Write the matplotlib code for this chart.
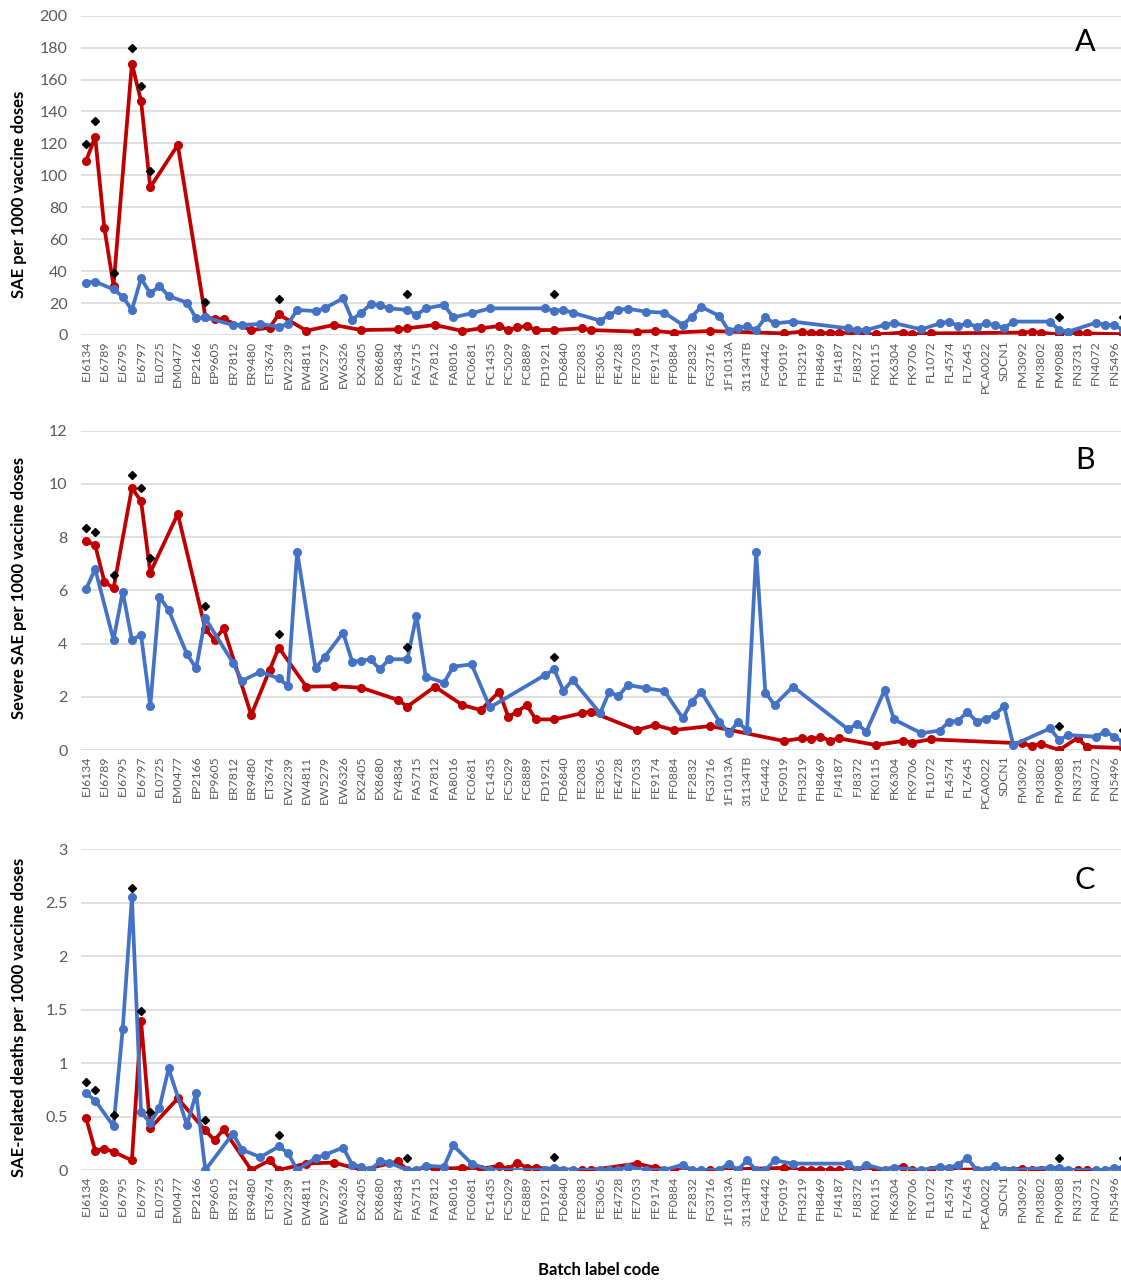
import matplotlib
matplotlib.use("Agg")
import matplotlib.pyplot as plt

plt.rcParams['font.family'] = ['Lato', 'DejaVu Sans']

# batch codes; only every other batch carries a label on the axis
batch_labels = [
    "EJ6134", "EJ6789", "EJ6795", "EJ6797", "EL0725", "EM0477", "EP2166", "EP9605",
    "ER7812", "ER9480", "ET3674", "EW2239", "EW4811", "EW5279", "EW6326", "EX2405",
    "EX8680", "EY4834", "FA5715", "FA7812", "FA8016", "FC0681", "FC1435", "FC5029",
    "FC8889", "FD1921", "FD6840", "FE2083", "FE3065", "FE4728", "FE7053", "FE9174",
    "FF0884", "FF2832", "FG3716", "1F1013A", "31134TB", "FG4442", "FG9019", "FH3219",
    "FH8469", "FJ4187", "FJ8372", "FK0115", "FK6304", "FK9706", "FL1072", "FL4574",
    "FL7645", "PCA0022", "SDCN1", "FM3092", "FM3802", "FM9088", "FN3731", "FN4072",
    "FN5496",
]
n_batches = 114

# batch positions that have a value in each series
red_batches = [0, 1, 2, 3, 5, 6, 7, 10, 13, 14,
               15, 18, 20, 21, 24, 27, 30, 34, 35, 38,
               41, 43, 45, 46, 47, 48, 49, 51, 54, 55,
               60, 62, 64, 68, 76, 78, 79, 80, 81, 82,
               86, 89, 90, 92, 102, 103, 104, 106, 108, 109,
               113]
blue_batches = [0, 1, 3, 4, 5, 6, 7, 8, 9, 11,
                12, 13, 16, 17, 19, 21, 22, 23, 25, 26,
                28, 29, 30, 31, 32, 33, 35, 36, 37, 39,
                40, 42, 44, 50, 51, 52, 53, 56, 57, 58,
                59, 61, 63, 65, 66, 67, 69, 70, 71, 72,
                73, 74, 75, 77, 83, 84, 85, 87, 88, 91,
                93, 94, 95, 96, 97, 98, 99, 100, 101, 105,
                106, 107, 110, 111, 112, 113]
flag_batches = [0, 1, 3, 5, 6, 7, 13, 21, 35, 51, 106, 113]

# panel A: SAE per 1000 doses
a_red = [109, 124, 67, 31, 170, 146.5, 92.5, 119, 11.5, 9.8,
         9.8, 3.1, 4.6, 12.9, 2.7, 6.3, 3.1, 3.5, 4.2, 6.3,
         2.5, 4.2, 5.6, 3.1, 4.8, 5.6, 3.1, 3.1, 4.2, 3.1,
         2.1, 2.5, 1.5, 2.5, 1.0, 2.1, 1.0, 1.5, 1.0, 1.5,
         0.4, 1.5, 0.4, 1.0, 1.5, 2.1, 1.5, 0.3, 1.0, 1.0,
         0.5]
a_blue = [32.8, 33.4, 28.6, 24, 15.7, 35.5, 26, 30.7, 24.4, 20.3,
          10.4, 11, 6.3, 6.3, 6.9, 5.2, 6.9, 15.7, 15, 16.7,
          23, 9.6, 14, 19.2, 18.8, 16.7, 15.7, 12.5, 16.7, 18.8,
          11, 13.6, 16.7, 16.7, 15.2, 15.7, 14, 9, 12.5, 15.7,
          16.5, 14.6, 14, 6.3, 11.5, 17.7, 11.9, 2.7, 4.2, 5.6,
          3.1, 11, 7.3, 8.4, 4.2, 3.1, 3.1, 6.3, 7.5, 3.5,
          7.3, 8.4, 5.6, 7.3, 5.2, 7.3, 6.3, 4.2, 8.4, 8.4,
          3.1, 2.1, 7.7, 6.3, 6.3, 3.0]
a_flag = [119.6, 134, 39, 179.5, 156, 103, 20.7, 22.5, 25.7, 25.7, 11.5, 11.5]

# panel B: severe SAE per 1000 doses
b_red = [7.86, 7.7, 6.33, 6.08, 9.84, 9.36, 6.67, 8.87, 4.54, 4.14,
         4.57, 1.32, 3.0, 3.85, 2.38, 2.4, 2.34, 1.88, 1.63, 2.38,
         1.69, 1.5, 2.19, 1.25, 1.44, 1.69, 1.15, 1.15, 1.38, 1.44,
         0.75, 0.94, 0.75, 0.9, 0.34, 0.44, 0.4, 0.5, 0.35, 0.44,
         0.19, 0.34, 0.28, 0.4, 0.25, 0.15, 0.23, 0.0, 0.45, 0.12,
         0.08]
b_blue = [6.04, 6.8, 4.14, 5.95, 4.14, 4.32, 1.65, 5.76, 5.26, 3.6,
          3.07, 4.95, 3.28, 2.6, 2.94, 2.69, 2.41, 7.46, 3.07, 3.5,
          4.41, 3.32, 3.36, 3.41, 3.03, 3.41, 3.41, 5.05, 2.76, 2.53,
          3.13, 3.22, 1.6, 2.82, 3.03, 2.23, 2.63, 1.38, 2.19, 2.02,
          2.45, 2.32, 2.22, 1.19, 1.82, 2.19, 1.07, 0.63, 1.04, 0.75,
          7.43, 2.16, 1.69, 2.38, 0.78, 0.98, 0.69, 2.26, 1.15, 0.63,
          0.73, 1.07, 1.09, 1.44, 1.07, 1.17, 1.32, 1.65, 0.19, 0.81,
          0.38, 0.56, 0.5, 0.69, 0.5, 0.28]
b_flag = [8.33, 8.2, 6.58, 10.34, 9.84, 7.23, 5.43, 4.35, 3.88, 3.51, 0.9, 0.75]

# panel C: SAE-related deaths per 1000 doses
c_red = [0.49, 0.18, 0.2, 0.17, 0.09, 1.39, 0.39, 0.67, 0.37, 0.28,
         0.38, 0.0, 0.09, 0.0, 0.06, 0.07, 0.0, 0.08, 0.0, 0.01,
         0.02, 0.01, 0.04, 0.01, 0.07, 0.02, 0.02, 0.01, 0.0, 0.0,
         0.06, 0.02, 0.0, 0.0, 0.02, 0.0, 0.0, 0.0, 0.0, 0.0,
         0.0, 0.03, 0.0, 0.0, 0.01, 0.0, 0.0, 0.0, 0.0, 0.0,
         0.0]
c_blue = [0.72, 0.65, 0.41, 1.32, 2.55, 0.54, 0.44, 0.58, 0.95, 0.42,
          0.72, 0.0, 0.34, 0.19, 0.12, 0.22, 0.16, 0.0, 0.11, 0.14,
          0.21, 0.05, 0.03, 0.0, 0.08, 0.07, 0.0, 0.0, 0.04, 0.03,
          0.23, 0.06, 0.0, 0.0, 0.02, 0.0, 0.0, 0.0, 0.0, 0.0,
          0.03, 0.0, 0.0, 0.05, 0.0, 0.0, 0.0, 0.06, 0.0, 0.09,
          0.0, 0.0, 0.09, 0.06, 0.06, 0.0, 0.05, 0.0, 0.02, 0.0,
          0.03, 0.02, 0.05, 0.11, 0.0, 0.0, 0.04, 0.0, 0.0, 0.02,
          0.02, 0.0, 0.0, 0.0, 0.02, 0.02]
c_flag = [0.82, 0.75, 0.51, 2.64, 1.49, 0.54, 0.47, 0.33, 0.11, 0.12, 0.11, 0.11]

W, H = 1121, 1282
fig = plt.figure(figsize=(W / 100, H / 100), dpi=100)


def axes_px(top, bottom, left=81.4, right=1128):
    return fig.add_axes([left / W, 1 - bottom / H, (right - left) / W, (bottom - top) / H])


panels = [
    (15.7, 335, a_red, a_blue, a_flag, 200, 20, "SAE per 1000 vaccine doses", 0.44, "A", 0.918),
    (430.7, 750, b_red, b_blue, b_flag, 12, 2, "Severe SAE per 1000 vaccine doses", 0.507, "B", 0.908),
    (849.3, 1170, c_red, c_blue, c_flag, 3, 0.5, "SAE-related deaths per 1000 vaccine doses", 0.477, "C", 0.904),
]

grey = "#595959"
for top, bottom, red, blue, flag, ymax, step, ylabel, ly, letter, lety in panels:
    ax = axes_px(top, bottom)
    ax.plot(red_batches, red, color="#C00000", lw=2.7, marker="o", ms=5.5, zorder=3)
    ax.plot(blue_batches, blue, color="#4472C4", lw=2.7, marker="o", ms=5.5, zorder=4)
    ax.plot(flag_batches, flag, "D", color="black", ms=4.5, zorder=5)

    ax.set_xlim(-0.5, n_batches - 0.5)
    ax.set_ylim(0, ymax)
    n_steps = int(round(ymax / step))
    yt = [step * k for k in range(n_steps + 1)]
    ax.set_yticks(yt)
    ax.set_yticklabels([f"{v:g}" for v in yt])
    ax.set_xticks(range(0, 2 * len(batch_labels), 2))
    ax.set_xticklabels(batch_labels, rotation=90)
    ax.tick_params(axis="y", length=0, pad=10, labelsize=11.5, labelcolor=grey)
    ax.tick_params(axis="x", length=0, pad=4, labelsize=8.8, labelcolor=grey)
    ax.grid(axis="y", color="#D9D9D9", lw=1.2)
    ax.set_axisbelow(True)
    for s in ax.spines.values():
        s.set_visible(False)

    ax.set_ylabel(ylabel, fontsize=12, fontweight="bold", color="black")
    ax.yaxis.set_label_coords(-0.052, ly)
    ax.text(0.959, lety, letter, transform=ax.transAxes, fontsize=22,
            ha="center", va="center", color="black")

fig.text(599 / W, 1 - 1270 / H, "Batch label code", fontsize=12, fontweight="bold",
         ha="center", va="center")

fig.savefig("out.png", dpi=100)
